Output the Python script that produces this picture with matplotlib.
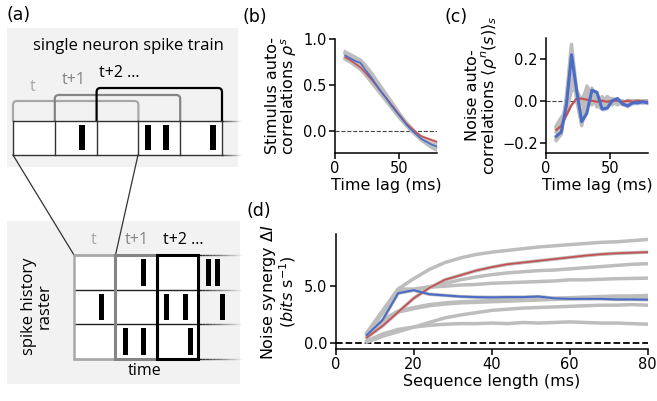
import matplotlib
matplotlib.use('Agg')
import matplotlib.pyplot as plt
from matplotlib.patches import Rectangle, PathPatch
from matplotlib.path import Path
import numpy as np

plt.rcParams['font.family'] = ['DejaVu Sans']
plt.rcParams['mathtext.fontset'] = 'dejavusans'

# ---- data ----
lags = [8, 12, 16, 20, 24, 28, 32, 36, 40, 44, 48, 52, 56, 60, 64, 68, 72, 76, 80]

stim_blue = [0.82, 0.79, 0.76, 0.74, 0.66, 0.59, 0.51, 0.43, 0.36, 0.28, 0.21,
             0.14, 0.07, 0.01, -0.04, -0.09, -0.12, -0.15, -0.17]
stim_red = [0.80, 0.77, 0.73, 0.69, 0.63, 0.57, 0.50, 0.43, 0.36, 0.29, 0.22,
            0.15, 0.08, 0.03, -0.02, -0.06, -0.08, -0.10, -0.12]
stim_gray = [
    [0.86, 0.83, 0.80, 0.77, 0.71, 0.64, 0.56, 0.48, 0.40, 0.32, 0.24, 0.16, 0.09, 0.03, -0.03, -0.09, -0.14, -0.18, -0.21],
    [0.84, 0.81, 0.78, 0.76, 0.69, 0.62, 0.54, 0.46, 0.38, 0.30, 0.22, 0.15, 0.08, 0.02, -0.04, -0.10, -0.14, -0.17, -0.20],
    [0.80, 0.77, 0.74, 0.71, 0.64, 0.57, 0.49, 0.41, 0.34, 0.27, 0.20, 0.13, 0.06, 0.00, -0.05, -0.10, -0.13, -0.16, -0.19],
    [0.78, 0.75, 0.71, 0.67, 0.61, 0.54, 0.47, 0.40, 0.33, 0.26, 0.19, 0.12, 0.06, 0.01, -0.04, -0.08, -0.12, -0.14, -0.16],
]

noise_blue = [-0.17, -0.15, -0.02, 0.22, 0.05, -0.10, -0.06, 0.05, 0.04, -0.04, -0.035,
              0.00, 0.01, -0.015, -0.025, -0.01, -0.01, -0.005, -0.01]
noise_red = [-0.14, -0.12, -0.07, -0.02, 0.01, 0.01, 0.005, 0.0, -0.005, 0.0, -0.005,
             0.0, 0.0, -0.005, 0.0, -0.005, 0.0, -0.005, -0.005]
noise_gray = [
    [-0.19, -0.16, 0.02, 0.27, 0.05, -0.09, 0.07, 0.03, -0.03, 0.02, -0.01, -0.02, 0.01, -0.01, -0.01, 0.00, -0.01, 0.00, -0.01],
    [-0.15, -0.12, -0.04, 0.18, 0.02, -0.12, 0.00, 0.06, 0.00, -0.02, 0.02, 0.00, -0.02, 0.00, -0.01, -0.01, 0.00, -0.01, 0.00],
    [-0.13, -0.10, -0.06, 0.10, 0.03, -0.02, 0.02, 0.00, 0.02, -0.01, -0.03, 0.01, 0.00, -0.02, 0.00, 0.00, -0.01, 0.00, -0.01],
    [-0.18, -0.14, 0.00, 0.24, 0.00, -0.11, 0.04, 0.05, -0.02, -0.04, 0.01, 0.01, -0.01, -0.01, -0.02, 0.00, 0.00, -0.01, -0.01],
    [-0.12, -0.08, -0.05, 0.05, 0.05, 0.00, 0.06, -0.02, 0.03, -0.03, 0.00, 0.00, 0.01, -0.01, 0.00, -0.01, 0.00, 0.00, 0.00],
]

seq_len = lags
syn_blue = [0.72, 2.0, 4.34, 4.6, 4.25, 4.15, 4.05, 4.0, 3.98, 4.0, 4.0,
            4.05, 3.9, 3.85, 3.85, 3.85, 3.8, 3.8, 3.78]
syn_red = [0.5, 1.5, 2.7, 3.9, 4.8, 5.5, 5.9, 6.3, 6.6, 6.85, 7.0,
           7.15, 7.3, 7.45, 7.6, 7.72, 7.8, 7.85, 7.9]
syn_gray = [
    [0.9, 2.8, 4.7, 5.6, 6.4, 7.0, 7.4, 7.7, 7.9, 8.05, 8.2, 8.35, 8.45, 8.55, 8.65, 8.75, 8.8, 8.9, 9.0],
    [0.9, 2.8, 4.7, 4.7, 4.9, 5.2, 5.5, 5.75, 5.95, 6.1, 6.2, 6.3, 6.35, 6.45, 6.55, 6.65, 6.75, 6.85, 6.9],
    [0.8, 2.6, 4.5, 4.6, 4.85, 4.95, 5.05, 5.1, 5.2, 5.25, 5.3, 5.35, 5.4, 5.5, 5.5, 5.55, 5.6, 5.62, 5.65],
    [0.5, 1.9, 2.7, 3.0, 3.25, 3.4, 3.5, 3.55, 3.6, 3.65, 3.7, 3.75, 3.8, 3.85, 3.9, 3.95, 4.0, 4.0, 4.0],
    [0.6, 2.0, 2.8, 3.1, 3.35, 3.5, 3.6, 3.65, 3.7, 3.75, 3.8, 3.85, 3.9, 3.95, 4.0, 4.05, 4.1, 4.1, 4.15],
    [0.1, 0.6, 1.0, 1.4, 1.8, 2.2, 2.45, 2.65, 2.85, 2.95, 3.05, 3.1, 3.15, 3.2, 3.25, 3.3, 3.3, 3.35, 3.3],
    [0.2, 0.8, 1.2, 1.4, 1.55, 1.65, 1.7, 1.7, 1.75, 1.7, 1.8, 1.75, 1.8, 1.85, 1.8, 1.75, 1.75, 1.7, 1.65],
]

# schematic spikes: (bin, fraction inside bin)
train_spikes = [(1, 0.64), (3, 0.23), (3, 0.66), (4, 0.78)]
raster_spikes = [  # (row, col, fraction)
    (0, 1, 0.68), (0, 3, 0.25), (0, 3, 0.47),
    (1, 0, 0.67), (1, 2, 0.24), (1, 2, 0.70), (1, 3, 0.60),
    (2, 1, 0.25), (2, 1, 0.68), (2, 2, 0.82),
]

BLUE = '#4a6cc6'
RED = '#c45252'
GRAY = '#bdbdbd'
TICK = 10.5
LAB = 11.5

fig = plt.figure(figsize=(6.57, 4.01), dpi=100)


def style(ax):
    for s in ['top', 'right']:
        ax.spines[s].set_visible(False)
    for s in ['left', 'bottom']:
        ax.spines[s].set_linewidth(1.1)
    ax.tick_params(labelsize=TICK, length=4, width=1.1, pad=2)
    ax.patch.set_alpha(0)


def band(ax, x, y, c, w, lw):
    y = np.array(y)
    ax.fill_between(x, y - w, y + w, color=c, alpha=0.35, lw=0)
    ax.plot(x, y, color=c, lw=lw)


# ---- (b) ----
axb = fig.add_axes([335/657, 1-153/401, 102/657, 114/401])
for g in stim_gray:
    axb.plot(lags, g, color=GRAY, lw=2.5)
axb.axhline(0, color='#444444', lw=0.8, ls='--', zorder=0)
band(axb, lags, stim_red, RED, 0.02, 1.2)
band(axb, lags, stim_blue, BLUE, 0.02, 1.2)
axb.set_xlim(0, 80)
axb.set_ylim(-0.24, 1.0)
axb.set_yticks([0, 0.5, 1.0])
axb.set_yticklabels(['0.0', '0.5', '1.0'])
axb.set_xticks([0, 50])
axb.set_xlabel('Time lag (ms)', fontsize=LAB, labelpad=1)
axb.set_ylabel('Stimulus auto-\ncorrelations $\\rho^s$', fontsize=LAB, labelpad=3, linespacing=0.95)
style(axb)

# ---- (c) ----
axc = fig.add_axes([546/657, 1-153/401, 102/657, 115/401])
for g in noise_gray:
    axc.plot(lags, g, color=GRAY, lw=2.5)
axc.axhline(0, color='#444444', lw=0.8, ls='--', zorder=0)
band(axc, lags, noise_red, RED, 0.008, 1.6)
band(axc, lags, noise_blue, BLUE, 0.01, 2.2)
axc.set_xlim(0, 80)
axc.set_ylim(-0.25, 0.30)
axc.set_yticks([-0.2, 0, 0.2])
axc.set_yticklabels(['\u22120.2', '0.0', '0.2'])
axc.set_xticks([0, 50])
axc.set_xlabel('Time lag (ms)', fontsize=LAB, labelpad=1)
axc.set_ylabel('Noise auto-\ncorrelations $\\langle\\rho^n(s)\\rangle_s$', fontsize=LAB,
               labelpad=2, linespacing=0.95)
style(axc)

# ---- (d) ----
axd = fig.add_axes([335.7/657, 1-349/401, 312/657, 114.7/401])
for g in syn_gray:
    axd.plot(seq_len, g, color=GRAY, lw=2.5)
axd.plot(seq_len, syn_red, color=GRAY, lw=2.5)
axd.plot(seq_len, syn_blue, color=GRAY, lw=2.5)
axd.axhline(0, color='black', lw=1.3, ls='--', zorder=0)
band(axd, seq_len, syn_red, RED, 0.08, 1.3)
band(axd, seq_len, syn_blue, BLUE, 0.06, 1.5)
axd.set_xlim(0, 80)
axd.set_ylim(-0.5, 9.45)
axd.set_yticks([0, 5])
axd.set_yticklabels(['0.0', '5.0'])
axd.set_xticks([0, 20, 40, 60, 80])
axd.set_xlabel('Sequence length (ms)', fontsize=LAB, labelpad=1)
axd.set_ylabel('Noise synergy $\\Delta I$\n($\\it{bits}$ s$^{-1}$)', fontsize=LAB,
               labelpad=4, linespacing=0.95)
style(axd)

# ---- (a) schematic, drawn in pixel coordinates ----
axa = fig.add_axes([0, 0, 245/657, 1])
axa.set_xlim(0, 245)
axa.set_ylim(401, 0)
axa.axis('off')
AF = ['Open Sans', 'DejaVu Sans']
LG, MG = '#a8a8a8', '#858585'

axa.add_patch(Rectangle((7, 28), 231, 139, color='#f2f2f2', lw=0, zorder=0))
axa.add_patch(Rectangle((7, 221), 233, 163, color='#f2f2f2', lw=0, zorder=0))


def fade(x0, x1, y, color='#333333', lw=1.0, n=12):
    xs = np.linspace(x0, x1, n + 1)
    for i in range(n):
        axa.plot(xs[i:i+2], [y, y], color=color, lw=lw, alpha=1 - i / n,
                 solid_capstyle='butt')


def bracket(x0, x1, ytop, ybot, color, r=4):
    verts = [(x0, ybot), (x0, ytop + r), (x0, ytop), (x0 + r, ytop),
             (x1 - r, ytop), (x1, ytop), (x1, ytop + r), (x1, ybot)]
    codes = [Path.MOVETO, Path.LINETO, Path.CURVE3, Path.CURVE3,
             Path.LINETO, Path.CURVE3, Path.CURVE3, Path.LINETO]
    axa.add_patch(PathPatch(Path(verts, codes), fill=False, ec=color, lw=1.6))


axa.text(128, 46, 'single neuron spike train', ha='center', va='center',
         fontsize=12, family=AF)

# spike train row
tx = np.linspace(13, 222, 6)
ty0, ty1 = 121, 155
axa.add_patch(Rectangle((tx[0], ty0), tx[-1] - tx[0], ty1 - ty0, color='white', lw=0, zorder=0.5))
for y in (ty0, ty1):
    axa.plot([tx[0], tx[-1]], [y, y], color='#333333', lw=1.0)
    fade(tx[-1], 241, y)
for x in tx:
    axa.plot([x, x], [ty0, ty1], color='#333333', lw=1.0)
bw = tx[1] - tx[0]
for b, fr in train_spikes:
    xc = tx[b] + fr * bw
    axa.add_patch(Rectangle((xc - 3, 125), 6, 25, color='black', lw=0))

bracket(tx[0], tx[3], 101, ty0, LG)
bracket(tx[1], tx[4], 95, ty0, MG)
bracket(tx[2], tx[5], 88, ty0, 'black')
axa.text(33, 87, 't', color=LG, ha='center', va='center', fontsize=11.5, family=AF)
axa.text(74, 80, 't+1', color=MG, ha='center', va='center', fontsize=11.5, family=AF)
axa.text(99, 73, 't+2 \u2026', color='black', ha='left', va='center', fontsize=11.5, family=AF)

# zoom lines
axa.plot([13, 74], [155, 255], color='#333333', lw=0.9)
axa.plot([138, 115.5], [155, 255], color='#333333', lw=0.9)

# raster
rx = np.linspace(74, 198, 4)
ry = np.linspace(255, 359, 4)
cw = rx[1] - rx[0]
rh = ry[1] - ry[0]
axa.add_patch(Rectangle((rx[0], ry[0]), rx[-1] - rx[0], ry[-1] - ry[0], color='white', lw=0, zorder=0.5))
for y in ry:
    axa.plot([rx[0], rx[-1]], [y, y], color='#222222', lw=1.0)
    fade(rx[-1], 241, y, color='#222222')
for r, c, fr in raster_spikes:
    xc = rx[c] + fr * cw
    axa.add_patch(Rectangle((xc - 2.6, ry[r] + 4), 5.2, rh - 8, color='black', lw=0))
for i, (col, lw) in enumerate([(LG, 1.8), (MG, 2.2), ('black', 2.2)]):
    axa.add_patch(Rectangle((rx[i], ry[0]), cw, ry[-1] - ry[0], fill=False,
                            ec=col, lw=lw, zorder=3))
axa.text(94, 240, 't', color=LG, ha='center', va='center', fontsize=11.5, family=AF)
axa.text(137, 240, 't+1', color=MG, ha='center', va='center', fontsize=11.5, family=AF)
axa.text(163, 240, 't+2 \u2026', color='black', ha='left', va='center', fontsize=11.5, family=AF)
axa.text(145, 371, 'time', ha='center', va='center', fontsize=11.5, family=AF)
axa.text(37, 306, 'spike history\nraster', rotation=90, ha='center', va='center',
         fontsize=12, family=AF, linespacing=1.0)

# panel letters
for lbl, x, y in [('(a)', 7, 15), ('(b)', 243, 17), ('(c)', 445, 17), ('(d)', 247, 211)]:
    fig.text(x/657, 1 - y/401, lbl, ha='left', va='center', fontsize=12.5)

plt.savefig('out.png', dpi=100)
